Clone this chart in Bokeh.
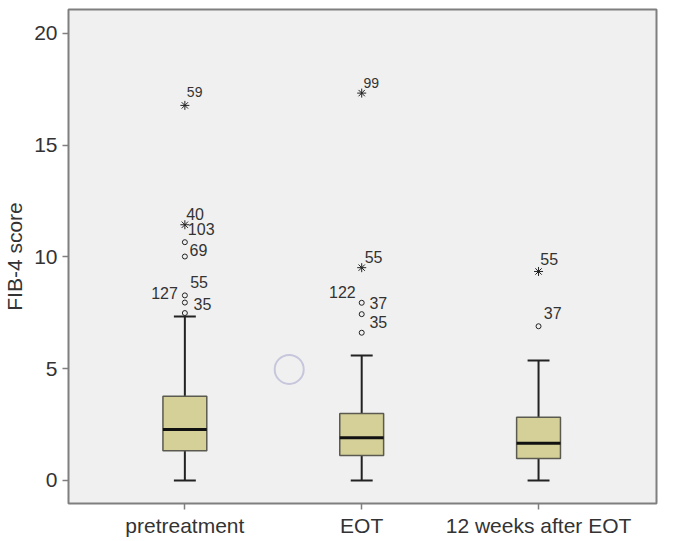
from bokeh.plotting import figure
from bokeh.models import FixedTicker, ColumnDataSource, Range1d
from bokeh.embed import file_html
from bokeh.resources import INLINE
from bokeh.core.properties import value

# ---------------- data ----------------
categories = ["pretreatment", "EOT", "12 weeks after EOT"]
q1 = [1.33, 1.12, 0.98]
medians = [2.28, 1.91, 1.67]
q3 = [3.77, 3.00, 2.83]
whisker_low = [0.0, 0.0, 0.0]
whisker_high = [7.34, 5.59, 5.37]

# mild outliers (circles)
outlier_group = ["pretreatment"] * 5 + ["EOT"] * 3 + ["12 weeks after EOT"]
outlier_values = [10.66, 10.02, 8.28, 7.96, 7.49, 7.95, 7.44, 6.61, 6.90]

# extreme outliers (asterisks)
extreme_group = ["pretreatment", "pretreatment", "EOT", "EOT", "12 weeks after EOT"]
extreme_values = [16.78, 11.44, 17.33, 9.52, 9.35]

# case-number labels
case_labels = ["59", "40", "103", "69", "55", "127", "35",
               "99", "55", "122", "37", "35",
               "55", "37"]
case_group = ["pretreatment"] * 7 + ["EOT"] * 5 + ["12 weeks after EOT"] * 2
case_values = [16.78, 11.44, 11.44, 10.02, 8.28, 8.28, 7.96,
               17.33, 9.52, 7.95, 7.95, 6.61,
               9.35, 6.90]

# stray ring mark present in the picture
ring_x = [1.59]
ring_y = [4.97]

yticks = [0, 5, 10, 15, 20]

# ---------------- label placement / styles (px) ----------------
label_dx = [2, 1.3, 3, 4.7, 5.3, -7, 8.7, 1.7, 3, -6, 7.7, 7.7, 1.8, 5.2]
label_dy = [-13, -11, 4, -7, -13.3, -2, 1, -10, -11, -10.6, 0, -10.6, -12, -13]
label_align = ["left", "left", "left", "left", "left", "right", "left",
               "left", "left", "right", "left", "left", "left", "left"]
label_size = ["14px", "16px", "16px", "16px", "16px", "16px", "16px",
              "14px", "16px", "16px", "16px", "16px", "16px", "16px"]

pos = {c: i + 1 for i, c in enumerate(categories)}
xs = [pos[c] for c in categories]

BOX_W = 0.248
CAP_W = 0.124

p = figure(width=676, height=541, output_backend="svg", toolbar_location=None,
           x_range=Range1d(0.342, 3.667), y_range=Range1d(-1.03, 21.07),
           min_border_left=65, min_border_right=20, min_border_top=9,
           min_border_bottom=38)
p.background_fill_color = "#f0f0f0"
p.border_fill_color = "white"
p.outline_line_color = "#7f7f7f"
p.outline_line_width = 2
p.xgrid.visible = False
p.ygrid.visible = False

# boxes and whiskers
src = ColumnDataSource(dict(
    x=xs, q1=q1, q3=q3, med=medians, lo=whisker_low, hi=whisker_high,
    xl=[x - BOX_W / 2 for x in xs], xr=[x + BOX_W / 2 for x in xs],
    cl=[x - CAP_W / 2 for x in xs], cr=[x + CAP_W / 2 for x in xs],
))
p.segment(x0="x", y0="q3", x1="x", y1="hi", source=src, line_color="#222222", line_width=2)
p.segment(x0="x", y0="lo", x1="x", y1="q1", source=src, line_color="#222222", line_width=2)
p.segment(x0="cl", y0="hi", x1="cr", y1="hi", source=src, line_color="#222222", line_width=2)
p.segment(x0="cl", y0="lo", x1="cr", y1="lo", source=src, line_color="#222222", line_width=2)
p.vbar(x="x", width=BOX_W, bottom="q1", top="q3", source=src,
       fill_color="#d4d097", line_color="#5a5a50", line_width=1.5)
p.segment(x0="xl", y0="med", x1="xr", y1="med", source=src, line_color="#111111", line_width=3)

# outliers
p.scatter(x=[pos[g] for g in outlier_group], y=outlier_values, marker="circle", size=5,
          line_color="#222222", line_width=1, fill_color="#f0f0f0")
p.scatter(x=[pos[g] for g in extreme_group], y=extreme_values, marker="asterisk", size=9,
          line_color="#222222", line_width=1)

# ring
p.scatter(x=ring_x, y=ring_y, marker="circle", size=29, fill_color=None,
          line_color="#c6c6dc", line_width=2)

# case labels
lsrc = ColumnDataSource(dict(
    x=[pos[g] for g in case_group], y=case_values, text=case_labels,
    dx=label_dx, dy=label_dy, align=label_align, size=label_size,
))
p.text(x="x", y="y", text="text", source=lsrc, x_offset="dx", y_offset="dy",
       text_align="align", text_baseline="middle", text_font_size="size",
       text_font=value("Liberation Sans"), text_color="#333333")

# axes
p.xaxis.ticker = FixedTicker(ticks=xs)
p.xaxis.major_label_overrides = {x: c for x, c in zip(xs, categories)}
p.yaxis.ticker = FixedTicker(ticks=yticks)
for ax in (p.xaxis[0], p.yaxis[0]):
    ax.axis_line_color = None
    ax.major_tick_line_color = "#7f7f7f"
    ax.major_tick_line_width = 1.5
    ax.major_tick_out = 6
    ax.major_tick_in = 0
    ax.minor_tick_line_color = None
    ax.major_label_text_font = "Liberation Sans"
    ax.major_label_text_font_size = "21px"
    ax.major_label_text_color = "#333333"
p.xaxis.major_label_standoff = 4
p.yaxis.major_label_standoff = 5
p.yaxis.axis_label = "FIB-4 score"
p.yaxis.axis_label_text_font = "Liberation Sans"
p.yaxis.axis_label_text_font_size = "21px"
p.yaxis.axis_label_text_font_style = "normal"
p.yaxis.axis_label_text_color = "#333333"
p.yaxis.axis_label_standoff = 5

open("out.html", "w").write(file_html(p, INLINE))
